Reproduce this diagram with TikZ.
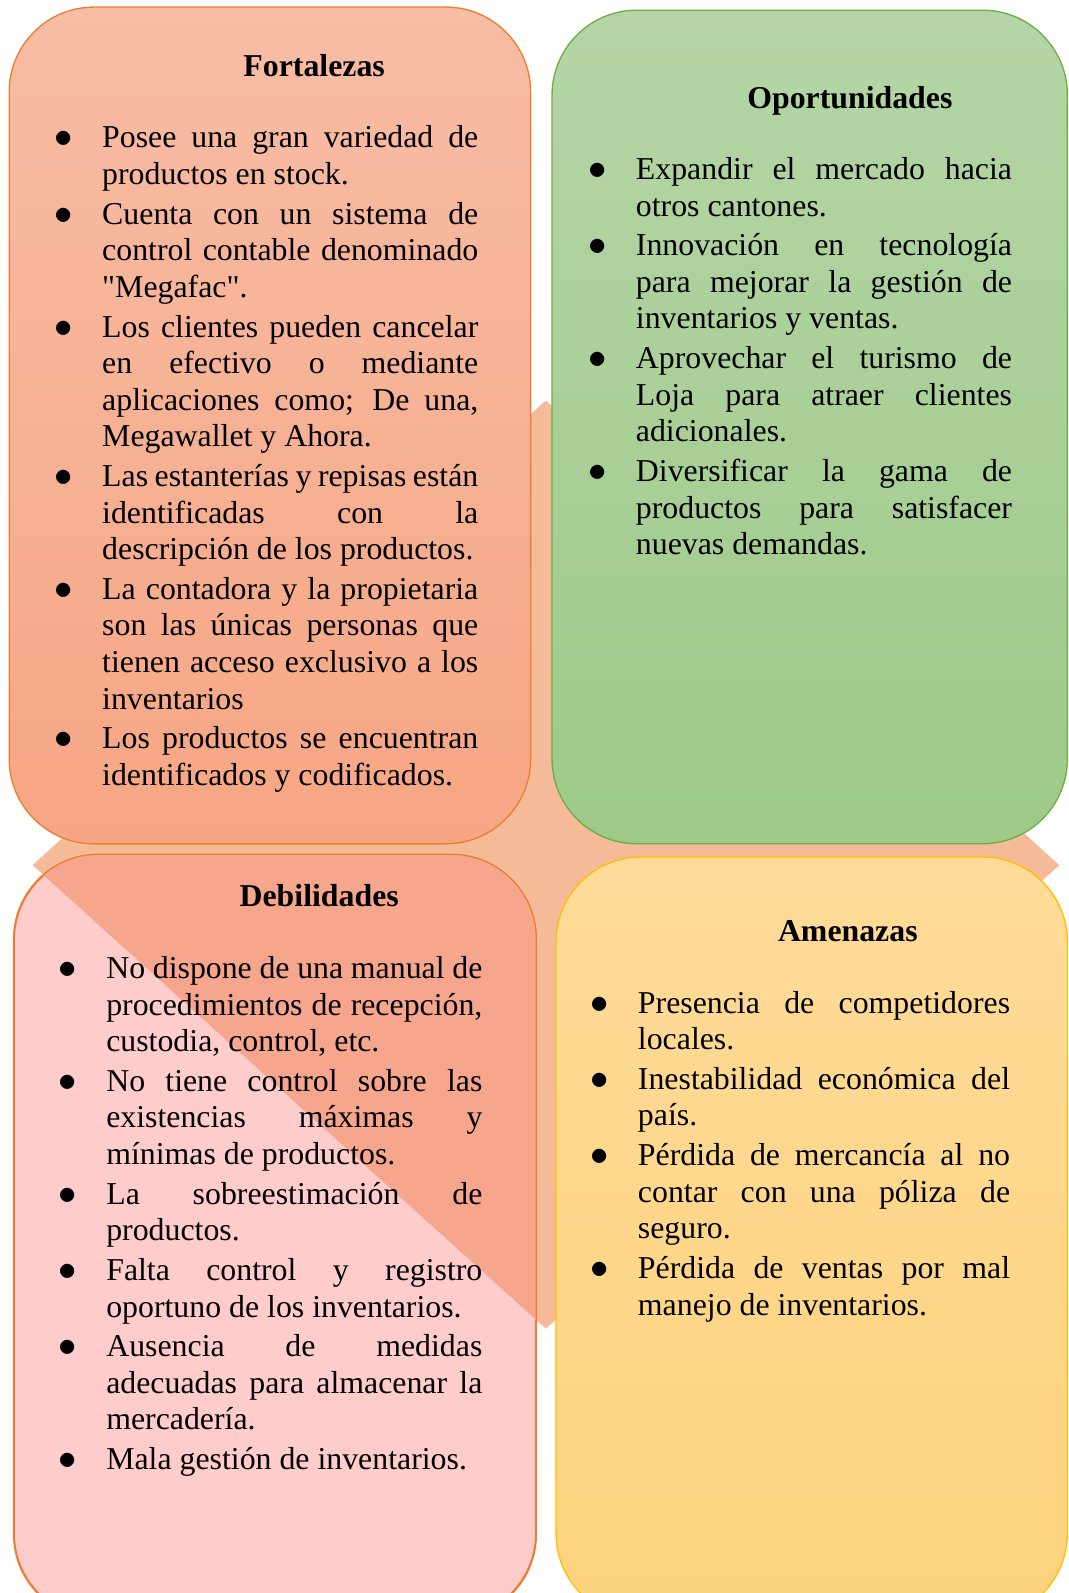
\documentclass[tikz,border=0pt]{standalone}
\usepackage{fontspec}
\setmainfont{Liberation Serif}
\usepackage{graphicx}
\usepackage{enumitem}
\usetikzlibrary{positioning}

\definecolor{fortTop}{RGB}{247,189,165}
\definecolor{fortBot}{RGB}{246,166,132}
\definecolor{fortLine}{RGB}{237,125,49}
\definecolor{opoTop}{RGB}{181,213,166}
\definecolor{opoBot}{RGB}{158,202,137}
\definecolor{opoLine}{RGB}{112,173,71}
\definecolor{debFill}{RGB}{255,204,204}
\definecolor{debOver}{RGB}{247,166,142}
\definecolor{ameTop}{RGB}{254,219,153}
\definecolor{ameBot}{RGB}{254,211,125}
\definecolor{ameLine}{RGB}{255,192,0}
\definecolor{diamFill}{RGB}{245,187,152}

\setlist[itemize]{label=\scalebox{1.15}{$\bullet$}, leftmargin=16.5pt, labelwidth=6.9pt,
  labelsep=11.15pt, align=right, itemsep=1.15pt, parsep=0pt, topsep=0pt, partopsep=0pt}
\tolerance=10000
\hyphenpenalty=10000

\begin{document}
\begin{tikzpicture}[x=0.3833pt, y=-0.3833pt,
  quad/.style = {rectangle, rounded corners=32pt, line width=0.5pt},
  heading/.style = {anchor=base, inner sep=0pt, font=\bfseries\fontsize{12}{13.8}\selectfont},
  points/.style = {anchor=north west, inner sep=0pt, text width=158.3pt, align=justify,
    font=\fontsize{12}{13.8}\selectfont}]
	\useasboundingbox (0,0) rectangle (1051,1567);
	% background diamond
	\coordinate (dn) at (537,394);
	\coordinate (de) at (1042,851);
	\coordinate (ds) at (537,1307);
	\coordinate (dw) at (32,851);
	\fill[diamFill] (dn) -- (de) -- (ds) -- (dw) -- cycle;
	% the four boxes
	\node[quad, draw=fortLine, top color=fortTop, bottom color=fortBot,
	  minimum width=196.6pt, minimum height=315.5pt] (fbox) at (265.5,418.5) {};
	\node[quad, draw=opoLine, top color=opoTop, bottom color=opoBot,
	  minimum width=194.3pt, minimum height=314.3pt] (obox) at (796.5,420) {};
	\node[quad, draw=fortLine, fill=debFill,
	  minimum width=196.6pt, minimum height=287.9pt] (dbox) at (270.5,1216.5) {};
	\node[quad, draw=ameLine, top color=ameTop, bottom color=ameBot,
	  minimum width=192.8pt, minimum height=287.1pt] (abox) at (798.5,1217.5) {};
	% diamond part lying over Debilidades
	\begin{scope}
		\clip (dn) -- (de) -- (ds) -- (dw) -- cycle;
		\fill[debOver, rounded corners=32pt] (dbox.south west) rectangle (dbox.north east);
	\end{scope}
	\draw[fortLine, line width=0.5pt, rounded corners=32pt] (dbox.south west) rectangle (dbox.north east);
	% titles
	\node[heading] (ftitle) at (309,75) {Fortalezas};
	\node[heading] (otitle) at (836,107) {Oportunidades};
	\node[heading] (dtitle) at (314,892) {Debilidades};
	\node[heading] (atitle) at (834,926) {Amenazas};
	% lists
	\node[points] (flist) at (57,109) {\begin{itemize}
		\item\strut Posee una gran variedad de \linebreak productos en stock.
		\item Cuenta con un sistema de \linebreak control contable denominado \linebreak \textquotedbl Megafac\textquotedbl.
		\item Los clientes pueden cancelar \linebreak en efectivo o mediante \linebreak aplicaciones como; De una, \linebreak Megawallet y Ahora.
		\item Las estanterías y repisas están \linebreak identificadas con la \linebreak descripción de los productos.
		\item La contadora y la propietaria \linebreak son las únicas personas que \linebreak tienen acceso exclusivo a los \linebreak inventarios
		\item Los productos se encuentran \linebreak identificados y codificados.
	\end{itemize}};
	\node[points] (olist) at (582,140) {\begin{itemize}
		\item\strut Expandir el mercado hacia \linebreak otros cantones.
		\item Innovación en tecnología \linebreak para mejorar la gestión de \linebreak inventarios y ventas.
		\item Aprovechar el turismo de \linebreak Loja para atraer clientes \linebreak adicionales.
		\item Diversificar la gama de \linebreak productos para satisfacer \linebreak nuevas demandas.
	\end{itemize}};
	\node[points] (dlist) at (61,926) {\begin{itemize}
		\item\strut No dispone de una manual de \linebreak procedimientos de recepción, \linebreak custodia, control, etc.
		\item No tiene control sobre las \linebreak existencias máximas y \linebreak mínimas de productos.
		\item La sobreestimación de \linebreak productos.
		\item Falta control y registro \linebreak oportuno de los inventarios.
		\item Ausencia de medidas \linebreak adecuadas para almacenar la \linebreak mercadería.
		\item Mala gestión de inventarios.
	\end{itemize}};
	\node[points, text width=156.8pt] (alist) at (584,960) {\begin{itemize}
		\item\strut Presencia de competidores \linebreak locales.
		\item Inestabilidad económica del \linebreak país.
		\item Pérdida de mercancía al no \linebreak contar con una póliza de \linebreak seguro.
		\item Pérdida de ventas por mal \linebreak manejo de inventarios.
	\end{itemize}};
\end{tikzpicture}
\end{document}
